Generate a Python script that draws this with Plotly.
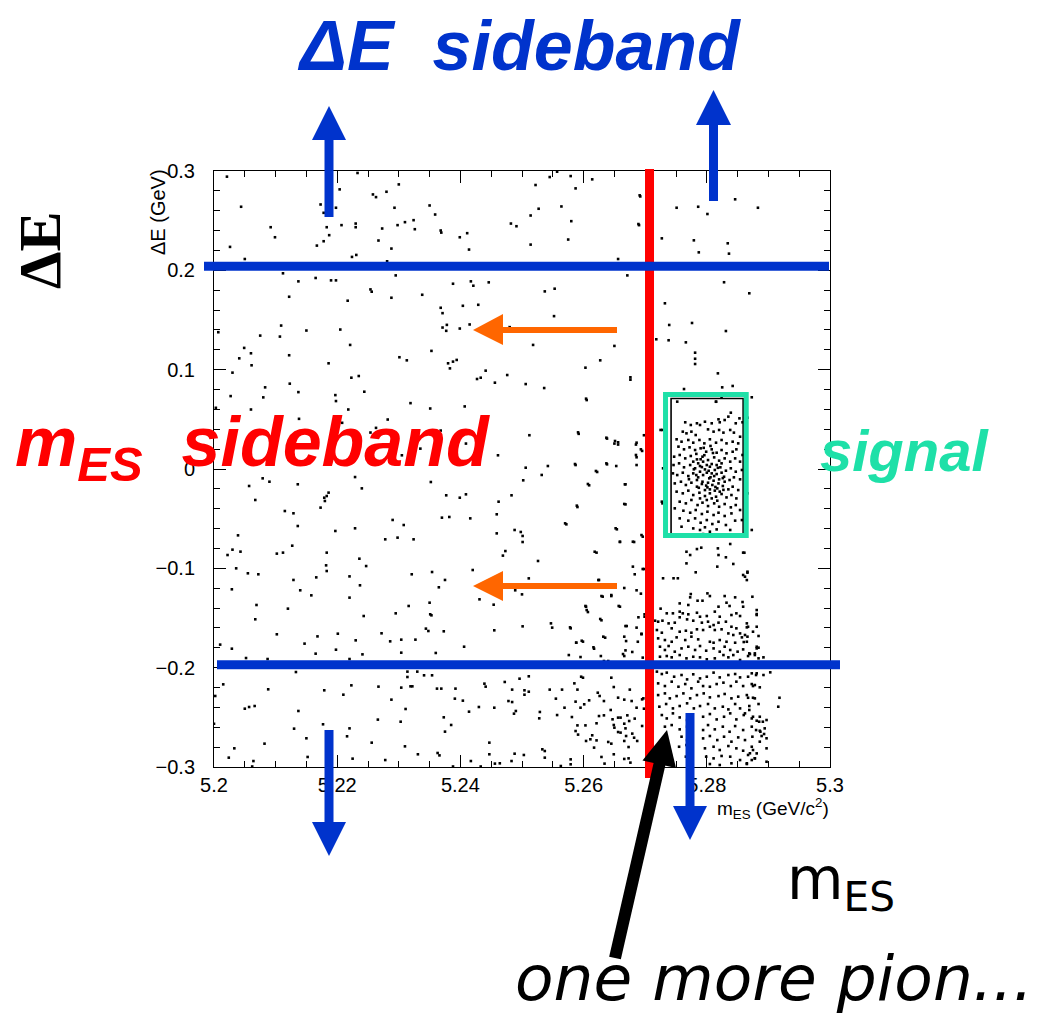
import plotly.graph_objects as go

# ---------------- data (m_ES [GeV/c^2], Delta E [GeV]) ----------------
sideband_upper = [
    (5.2021, 0.2943), (5.2044, 0.264), (5.2026, 0.2236), (5.2050, 0.2114), (5.2092, 0.2434), (5.2099, 0.2333),
    (5.2173, 0.2663), (5.2178, 0.2579), (5.2183, 0.2434), (5.2187, 0.2354), (5.2167, 0.2249), (5.2178, 0.2293),
    (5.2204, 0.2815), (5.2198, 0.263), (5.2207, 0.2455), (5.2230, 0.2471), (5.2230, 0.2434), (5.2233, 0.298),
    (5.2258, 0.2764), (5.2263, 0.2737), (5.2280, 0.2791), (5.2300, 0.2865), (5.2293, 0.263), (5.2273, 0.2421),
    (5.2267, 0.230), (5.2288, 0.2219), (5.2298, 0.2455), (5.2310, 0.2485), (5.2324, 0.2505), (5.2326, 0.2414),
    (5.2350, 0.2653), (5.2359, 0.2562), (5.2368, 0.2401), (5.2369, 0.2380), (5.2399, 0.2333), (5.2411, 0.2374),
    (5.2414, 0.2209), (5.2482, 0.2471), (5.2491, 0.2444), (5.2514, 0.2552), (5.2527, 0.262), (5.2522, 0.2859),
    (5.2545, 0.2939), (5.2557, 0.2993), (5.2579, 0.2949), (5.2587, 0.2825), (5.2564, 0.2643), (5.2580, 0.2495),
    (5.2575, 0.231), (5.2514, 0.2259), (5.2614, 0.2916), (5.2656, 0.2114), (5.2671, 0.1949), (5.2690, 0.2455),
    (5.2692, 0.2744), (5.2224, 0.2135), (5.2231, 0.2155), (5.2281, 0.2091),
    (5.2112, 0.197), (5.2137, 0.1889), (5.2165, 0.1923), (5.2190, 0.1899), (5.2198, 0.1899), (5.2122, 0.1734),
    (5.2254, 0.1808), (5.2256, 0.1785), (5.2295, 0.1949), (5.2288, 0.1724), (5.2217, 0.1694), (5.2338, 0.1754),
    (5.2368, 0.1623), (5.2371, 0.1569), (5.2388, 0.1865), (5.2404, 0.1643), (5.2417, 0.1889), (5.2421, 0.1845),
    (5.2429, 0.1653), (5.2446, 0.1879), (5.2371, 0.1424), (5.2378, 0.1451), (5.2377, 0.1391), (5.2399, 0.1414),
    (5.2415, 0.1455), (5.2480, 0.1428), (5.2537, 0.1788), (5.2553, 0.1815), (5.2552, 0.1539), (5.2007, 0.1377),
    (5.2075, 0.1343), (5.2109, 0.1444), (5.2107, 0.1333), (5.2150, 0.1394), (5.2205, 0.1404), (5.2221, 0.1249),
    (5.2049, 0.1219), (5.2041, 0.1114), (5.2060, 0.1165), (5.2061, 0.1044), (5.2122, 0.1145), (5.2030, 0.097),
    (5.2186, 0.1064), (5.2301, 0.1125), (5.2313, 0.1094), (5.2353, 0.1189), (5.2380, 0.1064), (5.2388, 0.1081),
    (5.2394, 0.1098), (5.2383, 0.1013), (5.2518, 0.1249), (5.2650, 0.1239), (5.2627, 0.1094), (5.2603, 0.102),
    (5.2676, 0.0899), (5.2427, 0.0906), (5.2433, 0.0919), (5.2441, 0.099), (5.2456, 0.0869), (5.2476, 0.0946),
    (5.2506, 0.0855), (5.2536, 0.0815), (5.2605, 0.0694), (5.2027, 0.0734), (5.2060, 0.0599), (5.2083, 0.0822),
    (5.2080, 0.0721), (5.2123, 0.0859), (5.2137, 0.0774), (5.2223, 0.0919), (5.2235, 0.0936), (5.2244, 0.0778),
    (5.2197, 0.0744), (5.2198, 0.0684), (5.2218, 0.0599), (5.2319, 0.0663), (5.2351, 0.0609), (5.2407, 0.063),
    (5.2003, 0.0616), (5.2138, 0.0505), (5.2202, 0.0488), (5.2208, 0.0465), (5.2282, 0.0498), (5.2027, 0.034),
    (5.2095, 0.0263), (5.2122, 0.0094), (5.2263, 0.0414), (5.2368, 0.0387), (5.2409, 0.0256), (5.2461, 0.0138),
    (5.2512, 0.034), (5.2592, 0.0354), (5.2638, 0.0306), (5.2650, 0.0256), (5.2656, 0.0246), (5.2685, 0.0246),
    (5.2686, 0.0118), (5.2698, 0.034), (5.2695, 0.0182), (5.2254, 0.0367), (5.2335, 0.0205), (5.2305, 0.0138),
]

sideband_lower = [
    (5.2506, 0.0013), (5.2542, 0.003), (5.2587, 0.004), (5.2638, 0.0047), (5.2653, 0.003), (5.2686, 0.004),
    (5.2502, -0.0114), (5.2532, -0.006), (5.2622, -0.003), (5.2668, -0.0154), (5.2609, -0.0164), (5.2590, -0.0383),
    (5.2668, -0.0356), (5.2572, -0.0557), (5.2654, -0.0607), (5.2659, -0.0735), (5.2682, -0.0735), (5.2696, -0.0681),
    (5.2621, -0.0842), (5.2683, -0.106), (5.2698, -0.1007), (5.2625, -0.1117), (5.2666, -0.1198), (5.2686, -0.1221),
    (5.2693, -0.1255), (5.2631, -0.1285), (5.2645, -0.1279), (5.2659, -0.1386), (5.2604, -0.1386), (5.2607, -0.144),
    (5.2629, -0.1523), (5.2668, -0.1581), (5.2686, -0.1597), (5.2694, -0.1658), (5.2547, -0.1554), (5.2549, -0.1597),
    (5.2579, -0.1604), (5.2588, -0.1748), (5.2599, -0.1738), (5.2635, -0.1698), (5.2617, -0.1809), (5.2669, -0.1732),
    (5.2668, -0.1826), (5.2679, -0.1842), (5.2595, -0.1893), (5.2628, -0.1883), (5.2633, -0.1933), (5.2640, -0.1933),
    (5.2666, -0.1883), (5.2696, -0.1899), (5.2699, -0.1463), (5.2699, -0.1487),
    (5.2057, -0.0171), (5.2079, -0.0094), (5.2090, -0.0128), (5.2136, -0.0154), (5.2067, -0.0312), (5.2115, -0.0423),
    (5.2129, -0.0446), (5.2136, -0.0574), (5.2173, -0.0389), (5.2179, -0.0289), (5.2183, -0.0272), (5.2186, -0.0238),
    (5.2180, -0.0322), (5.2229, -0.0081), (5.2240, -0.0195), (5.2197, -0.0624), (5.2229, -0.0597), (5.2290, -0.0513),
    (5.2308, -0.0564), (5.2278, -0.0708), (5.2298, -0.0691), (5.2324, -0.0708), (5.2236, -0.0903), (5.2247, -0.0977),
    (5.2039, -0.0668), (5.2030, -0.0812), (5.2043, -0.0832), (5.2022, -0.0866), (5.2036, -0.100), (5.2055, -0.105),
    (5.2072, -0.106), (5.2102, -0.0852), (5.2112, -0.0842), (5.2127, -0.0772), (5.2029, -0.1211), (5.2069, -0.1369),
    (5.2067, -0.1513), (5.2120, -0.1406), (5.2129, -0.1117), (5.2140, -0.1221), (5.2158, -0.1272), (5.2166, -0.1091),
    (5.2182, -0.097), (5.2183, -0.1027), (5.2183, -0.0842), (5.2220, -0.1081), (5.2220, -0.1295), (5.2237, -0.1171),
    (5.2243, -0.148), (5.2295, -0.1453), (5.2316, -0.1379), (5.2321, -0.106), (5.2352, -0.0131), (5.2377, -0.0265),
    (5.2399, -0.0289), (5.2409, -0.0255), (5.2354, -0.1037), (5.2375, -0.1117), (5.2365, -0.1191), (5.2350, -0.1346),
    (5.2351, -0.1463), (5.2353, -0.1473), (5.2344, -0.1607), (5.2348, -0.1631), (5.2373, -0.1634), (5.2370, -0.049),
    (5.2382, -0.0483), (5.2416, -0.0497), (5.2420, -0.1017), (5.2462, -0.0329), (5.2483, -0.0265), (5.2459, -0.0456),
    (5.2459, -0.0648), (5.2473, -0.0826), (5.2469, -0.0872), (5.2488, -0.0614), (5.2498, -0.0634), (5.2501, -0.0674),
    (5.2501, -0.0735), (5.2526, -0.0926), (5.2511, -0.1101), (5.2489, -0.1221), (5.2500, -0.1262), (5.2431, -0.1312),
    (5.2454, -0.1366), (5.2455, -0.1624), (5.2501, -0.1584), (5.2102, -0.1664), (5.2147, -0.1758), (5.2168, -0.1685),
    (5.2165, -0.1859), (5.2201, -0.1658), (5.2198, -0.1819), (5.2230, -0.1725), (5.2241, -0.1866), (5.2220, -0.1913),
    (5.2272, -0.1654), (5.2286, -0.1735), (5.2304, -0.1718), (5.2327, -0.1718), (5.2304, -0.1849), (5.2360, -0.1852),
    (5.2406, -0.1789), (5.2010, -0.1768), (5.2029, -0.1809), (5.2052, -0.1903), (5.2087, -0.1913),
    (5.2015, -0.2168), (5.2088, -0.2218), (5.2133, -0.2044), (5.2179, -0.2228), (5.2210, -0.2272), (5.2223, -0.2178),
    (5.2267, -0.2191), (5.2288, -0.2322), (5.2304, -0.2201), (5.2314, -0.204), (5.2319, -0.2188), (5.2322, -0.2188),
    (5.2314, -0.2094), (5.2330, -0.204), (5.2341, -0.2077), (5.2354, -0.2077), (5.2311, -0.2416), (5.2362, -0.2211),
    (5.2369, -0.2211), (5.2392, -0.2211), (5.2391, -0.2312), (5.2404, -0.2332), (5.2414, -0.2443), (5.2430, -0.2396),
    (5.2439, -0.2161), (5.2441, -0.2191), (5.2455, -0.2403), (5.2472, -0.2144), (5.2478, -0.2336), (5.2484, -0.2346),
    (5.2484, -0.2221), (5.2487, -0.2463), (5.2490, -0.2436), (5.2496, -0.2111), (5.2504, -0.2228), (5.2504, -0.2272),
    (5.2511, -0.2242), (5.2511, -0.2087), (5.2528, -0.251), (5.2545, -0.2221), (5.2555, -0.2312), (5.2557, -0.2477),
    (5.2565, -0.2221), (5.2569, -0.2403), (5.2581, -0.2497), (5.2590, -0.2581), (5.2603, -0.2581), (5.2621, -0.256),
    (5.2585, -0.2158), (5.2590, -0.2221), (5.2587, -0.2342), (5.2595, -0.2403), (5.2601, -0.2369), (5.2596, -0.2091),
    (5.2599, -0.2101), (5.2609, -0.2329), (5.2623, -0.2252), (5.2626, -0.2285), (5.2633, -0.2336), (5.2645, -0.2101),
    (5.2649, -0.2195), (5.2656, -0.2302), (5.2666, -0.2322), (5.2675, -0.2221), (5.2678, -0.2336), (5.2695, -0.2319),
    (5.2698, -0.2413), (5.2625, -0.2487), (5.2633, -0.248), (5.2644, -0.2426), (5.2647, -0.252), (5.2649, -0.2577),
    (5.2656, -0.2503), (5.2660, -0.2503), (5.2666, -0.2564), (5.2671, -0.248), (5.2674, -0.2537), (5.2686, -0.2403),
    (5.2683, -0.2513), (5.2668, -0.2611), (5.2650, -0.2604), (5.2656, -0.2648), (5.2660, -0.2654), (5.2679, -0.2664),
    (5.2682, -0.2705), (5.2669, -0.2688), (5.2640, -0.2748), (5.2645, -0.2765), (5.2666, -0.2738), (5.2673, -0.2799),
    (5.2687, -0.2738), (5.2614, -0.2681), (5.2611, -0.2721), (5.2617, -0.2805), (5.2629, -0.2899), (5.2649, -0.2872),
    (5.2634, -0.2966), (5.2666, -0.2919), (5.2676, -0.2956), (5.2673, -0.2913), (5.2695, -0.2587), (5.2697, -0.2309),
    (5.2002, -0.2285), (5.2000, -0.2564), (5.2050, -0.2413), (5.2057, -0.2396), (5.2066, -0.2386), (5.2130, -0.2614),
    (5.2137, -0.2436), (5.2150, -0.2711), (5.2177, -0.257), (5.2220, -0.2611), (5.2216, -0.2691), (5.2266, -0.2523),
    (5.2303, -0.2544), (5.2310, -0.2792), (5.2256, -0.2755), (5.2373, -0.25), (5.2375, -0.2644), (5.2385, -0.2577),
    (5.2447, -0.2755), (5.2447, -0.2872), (5.2456, -0.2966), (5.2417, -0.294), (5.2433, -0.2995), (5.2388, -0.2995),
    (5.2363, -0.2859), (5.2366, -0.2883), (5.2331, -0.2872), (5.2278, -0.293), (5.2225, -0.2916), (5.2152, -0.2899),
    (5.2064, -0.294), (5.2062, -0.2995), (5.2024, -0.2906), (5.2033, -0.2812), (5.2082, -0.2765), (5.2533, -0.2822),
    (5.2537, -0.2839), (5.2537, -0.2906), (5.2579, -0.2923), (5.2579, -0.2973), (5.2563, -0.299), (5.2529, -0.2446),
    (5.2488, -0.2866), (5.2503, -0.2879), (5.2483, -0.294), (5.2464, -0.2963), (5.2587, -0.2638), (5.2591, -0.2674),
    (5.2621, -0.2732), (5.2604, -0.2738),
]

right_region = [
    (5.2691, 0.2755), (5.2689, 0.2466), (5.2751, 0.263), (5.2786, 0.264), (5.2801, 0.2567), (5.2846, 0.2715),
    (5.2883, 0.263), (5.2727, 0.2322), (5.2779, 0.2302), (5.2834, 0.2272), (5.2787, 0.2181), (5.2836, 0.2168),
    (5.2828, 0.188), (5.2869, 0.1769), (5.2732, 0.1668), (5.2739, 0.145), (5.2776, 0.147), (5.2831, 0.1389),
    (5.2718, 0.1306), (5.2738, 0.1296), (5.2766, 0.1275), (5.2781, 0.1171), (5.2781, 0.111), (5.2781, 0.1057),
    (5.2818, 0.0963), (5.2676, 0.0923),
    (5.2604, 0.0708), (5.2591, 0.0369), (5.2637, 0.0315), (5.2651, 0.0282), (5.2656, 0.0269), (5.2686, 0.0265),
    (5.2693, 0.0198), (5.2725, 0.0393), (5.2586, 0.005), (5.2620, -0.002), (5.2637, 0.0057), (5.2685, 0.0141),
    (5.2607, -0.0151), (5.2667, -0.0154), (5.2589, -0.0369), (5.2666, -0.0352), (5.2727, -0.0329), (5.2570, -0.0547),
    (5.2652, -0.0597), (5.2659, -0.0732), (5.2680, -0.0732), (5.2694, -0.0665), (5.2618, -0.0833), (5.2767, -0.0833),
    (5.2773, -0.0866), (5.2767, -0.095), (5.2784, -0.0806), (5.2791, -0.0792), (5.2818, -0.0799), (5.2838, -0.0755),
    (5.2819, -0.0866), (5.2817, -0.0983), (5.2831, -0.0889), (5.2843, -0.0956), (5.2859, -0.0842), (5.2680, -0.0983),
    (5.2696, -0.1007), (5.2729, -0.11), (5.2746, -0.11), (5.2753, -0.11), (5.2782, -0.104), (5.2859, -0.1067),
    (5.2866, -0.1044), (5.2624, -0.1118), (5.2629, -0.1279), (5.2645, -0.1269), (5.2578, -0.1594), (5.2603, -0.1379),
    (5.2605, -0.1420), (5.2657, -0.1379), (5.2627, -0.151), (5.2670, -0.1581), (5.2689, -0.1493), (5.2588, -0.1749),
    (5.2597, -0.1729), (5.2616, -0.1795), (5.2632, -0.1688), (5.2664, -0.1863), (5.2666, -0.1688), (5.2688, -0.1739),
    (5.2694, -0.1664), (5.2576, -0.1873), (5.2763, 0.0805), (5.2825, 0.0822), (5.2842, 0.0836), (5.2815, 0.0677),
    (5.2873, 0.0722), (5.2866, 0.0516), (5.2866, -0.0245), (5.2873, -0.0614), (5.2861, -0.0843), (5.2866, -0.1034),
    (5.2862, -0.1084), (5.2865, -0.1118), (5.2874, -0.1286), (5.2881, -0.142), (5.2881, -0.147), (5.2867, -0.1588),
    (5.2865, -0.1594), (5.2866, -0.1688), (5.2860, -0.1742), (5.2881, -0.1789), (5.2884, -0.1799), (5.2878, -0.1856),
    (5.2870, -0.1863), (5.2884, -0.1906), (5.2903, -0.2047), (5.2873, -0.2057), (5.2880, -0.2074), (5.2875, -0.2185),
    (5.2878, -0.2175), (5.2867, -0.2303), (5.2875, -0.2303), (5.2918, -0.2303), (5.2869, -0.2426), (5.2862, -0.246),
    (5.2875, -0.2494), (5.2881, -0.2534), (5.2885, -0.2544), (5.2891, -0.2544), (5.2880, -0.2628), (5.2887, -0.2645),
    (5.2893, -0.2668), (5.2889, -0.2688), (5.2897, -0.2711), (5.2897, -0.2812), (5.2875, -0.2829), (5.2870, -0.2862),
    (5.2878, -0.2913), (5.2873, -0.293), (5.2865, -0.2963),
]

signal_cluster = [
    (5.2752, 0.0678), (5.2815, 0.0678), (5.2824, 0.0728), (5.2839, 0.0567), (5.2853, 0.051), (5.2858, 0.047),
    (5.2847, 0.046), (5.2765, 0.047), (5.2774, 0.0443), (5.2784, 0.046), (5.2789, 0.0443), (5.2797, 0.0476),
    (5.2808, 0.046), (5.2819, 0.05), (5.2821, 0.047), (5.2829, 0.0493), (5.2835, 0.0527), (5.2761, 0.0376),
    (5.2767, 0.0359), (5.2775, 0.0376), (5.2782, 0.0342), (5.2802, 0.0399), (5.2811, 0.0376), (5.2820, 0.0393),
    (5.2827, 0.0366), (5.2838, 0.0393), (5.2844, 0.0366), (5.2854, 0.0325), (5.2751, 0.0299), (5.2759, 0.0275),
    (5.2770, 0.0292), (5.2778, 0.0265), (5.2788, 0.0292), (5.2796, 0.0258), (5.2805, 0.0299), (5.2815, 0.0265),
    (5.2824, 0.0292), (5.2832, 0.0258), (5.2842, 0.0275), (5.2851, 0.0258), (5.2754, 0.0225), (5.2763, 0.0198),
    (5.2772, 0.0218), (5.2781, 0.0191), (5.2790, 0.0208), (5.2799, 0.0174), (5.2808, 0.0198), (5.2816, 0.0164),
    (5.2824, 0.0191), (5.2832, 0.0158), (5.2842, 0.0174), (5.2848, 0.0198), (5.2858, 0.0141), (5.2747, 0.0124),
    (5.2756, 0.0141), (5.2765, 0.0107), (5.2774, 0.0131), (5.2784, 0.0097), (5.2793, 0.0124), (5.2802, 0.009),
    (5.2812, 0.0117), (5.2820, 0.0084), (5.2829, 0.0107), (5.2838, 0.0074), (5.2846, 0.0107), (5.2854, 0.0074),
    (5.2746, 0.004), (5.2755, 0.0057), (5.2763, 0.0017), (5.2773, 0.004), (5.2781, 0.0007), (5.2789, 0.003),
    (5.2797, -0.0004), (5.2805, 0.0023), (5.2813, -0.001), (5.2822, 0.0017), (5.2831, -0.0017), (5.2839, 0.0007),
    (5.2847, -0.0027), (5.2857, -0.001), (5.2745, -0.0044), (5.2752, -0.0061), (5.2761, -0.0037), (5.2770, -0.0071),
    (5.2778, -0.0044), (5.2786, -0.0084), (5.2794, -0.0061), (5.2804, -0.0094), (5.2812, -0.0071), (5.2820, -0.0104),
    (5.2828, -0.0078), (5.2837, -0.0111), (5.2844, -0.0084), (5.2854, -0.0104), (5.2862, -0.0071), (5.2748, -0.0145),
    (5.2758, -0.0128), (5.2766, -0.0161), (5.2775, -0.0138), (5.2784, -0.0178), (5.2792, -0.0151), (5.2801, -0.0185),
    (5.2809, -0.0161), (5.2817, -0.0195), (5.2826, -0.0171), (5.2835, -0.0205), (5.2842, -0.0178), (5.2851, -0.0212),
    (5.2751, -0.0228), (5.2761, -0.0245), (5.2770, -0.0218), (5.2778, -0.0262), (5.2788, -0.0239), (5.2797, -0.0272),
    (5.2805, -0.0245), (5.2815, -0.0279), (5.2824, -0.0252), (5.2832, -0.0286), (5.2840, -0.0262), (5.2848, -0.0296),
    (5.2756, -0.0329), (5.2766, -0.0346), (5.2775, -0.0312), (5.2785, -0.0363), (5.2793, -0.0339), (5.2802, -0.0373),
    (5.2812, -0.0346), (5.2820, -0.038), (5.2829, -0.0353), (5.2839, -0.0386), (5.2847, -0.0363), (5.2748, -0.0396),
    (5.2762, -0.042), (5.2773, -0.044), (5.2782, -0.0413), (5.2792, -0.0453), (5.2801, -0.043), (5.2811, -0.0463),
    (5.2819, -0.044), (5.2829, -0.0473), (5.2840, -0.0447), (5.2854, -0.0413), (5.2756, -0.0497), (5.2770, -0.052),
    (5.2781, -0.0497), (5.2790, -0.0541), (5.2800, -0.0514), (5.2809, -0.0554), (5.2819, -0.0531), (5.2831, -0.0564),
    (5.2846, -0.052), (5.2857, -0.0514), (5.2759, -0.0581), (5.2778, -0.0598), (5.2789, -0.0614), (5.2797, -0.0587),
    (5.2805, -0.0631), (5.2816, -0.0608), (5.2838, -0.0614), (5.2781, -0.0665), (5.2794, -0.0655), (5.2808, -0.0675),
    (5.2728, 0.0393), (5.2729, 0.0007), (5.2728, -0.0346),
    (5.2778, 0.0074), (5.2786, 0.0057), (5.2794, 0.0074), (5.2800, 0.004), (5.2808, 0.005), (5.2816, 0.004),
    (5.2824, 0.0057), (5.2789, -0.0027), (5.2800, -0.0037), (5.2808, -0.0044), (5.2816, -0.0051), (5.2824, -0.0037),
    (5.2784, -0.0111), (5.2793, -0.0128), (5.2802, -0.0138), (5.2811, -0.0118), (5.2819, -0.0145), (5.2829, -0.0128),
    (5.2797, -0.0212), (5.2805, -0.0205), (5.2813, -0.0218), (5.2821, -0.0228), (5.2789, -0.0296), (5.2800, -0.0312),
    (5.2808, -0.0296), (5.2817, -0.0319),
    (5.2783, 0.0152), (5.2796, 0.0139), (5.2810, 0.0161), (5.2779, -0.0003), (5.2792, 0.0019), (5.2803, -0.0018),
    (5.2818, 0.0012), (5.2787, -0.0189), (5.2799, -0.0167), (5.2814, -0.0181), (5.2827, -0.0210), (5.2795, 0.0213),
    (5.2806, 0.0232), (5.2783, -0.0061), (5.2806, -0.0083), (5.2826, -0.0092), (5.2771, -0.0103), (5.2790, 0.0098),
]

peak_cluster = [
    (5.2774, -0.1259), (5.2773, -0.1292), (5.2801, -0.1252), (5.2805, -0.1279), (5.2829, -0.1279), (5.2846, -0.1292),
    (5.2785, -0.1326), (5.2793, -0.1326), (5.2756, -0.1353), (5.2770, -0.1369), (5.2819, -0.1386), (5.2858, -0.1339),
    (5.2859, -0.1386), (5.2881, -0.146), (5.2832, -0.1346), (5.2837, -0.1379), (5.2725, -0.1406), (5.2735, -0.1453),
    (5.2745, -0.1453), (5.2756, -0.1436), (5.2761, -0.1453), (5.2770, -0.1463), (5.2784, -0.1447), (5.2789, -0.1487),
    (5.2800, -0.148), (5.2813, -0.1436), (5.2821, -0.1487), (5.2840, -0.147), (5.2848, -0.1453), (5.2854, -0.148),
    (5.2716, -0.1527), (5.2721, -0.1537), (5.2728, -0.1527), (5.2738, -0.1554), (5.2748, -0.1547), (5.2756, -0.1493),
    (5.2768, -0.1514), (5.2778, -0.1527), (5.2792, -0.1547), (5.2802, -0.1537), (5.2811, -0.1571), (5.2819, -0.1547),
    (5.2831, -0.1537), (5.2840, -0.1588), (5.2848, -0.1604), (5.2865, -0.1554), (5.2881, -0.1588), (5.2719, -0.1621),
    (5.2727, -0.1648), (5.2743, -0.1604), (5.2756, -0.1638), (5.2766, -0.1628), (5.2775, -0.1648), (5.2784, -0.1614),
    (5.2794, -0.1621), (5.2805, -0.1588), (5.2813, -0.1621), (5.2824, -0.1614), (5.2835, -0.1655), (5.2843, -0.1671),
    (5.2854, -0.1655), (5.2862, -0.1671), (5.2875, -0.1638), (5.2721, -0.1705), (5.2732, -0.1722), (5.2743, -0.1739),
    (5.2751, -0.1695), (5.2765, -0.1722), (5.2775, -0.1688), (5.2786, -0.1715), (5.2805, -0.1739), (5.2811, -0.1749),
    (5.2821, -0.1722), (5.2832, -0.1739), (5.2846, -0.1749), (5.2857, -0.1695), (5.2865, -0.1739), (5.2884, -0.1681),
    (5.2724, -0.1789), (5.2732, -0.1822), (5.2738, -0.1782), (5.2748, -0.1839), (5.2759, -0.1806), (5.2770, -0.1789),
    (5.2781, -0.1822), (5.2789, -0.1782), (5.2799, -0.1829), (5.2811, -0.1806), (5.2821, -0.1839), (5.2829, -0.1789),
    (5.2838, -0.1822), (5.2850, -0.1839), (5.2859, -0.1816), (5.2869, -0.1856), (5.2881, -0.1806), (5.2724, -0.189),
    (5.2735, -0.1883), (5.2743, -0.1896), (5.2756, -0.1873), (5.2767, -0.1906), (5.2778, -0.189), (5.2789, -0.1896),
    (5.2800, -0.1916), (5.2813, -0.1906), (5.2827, -0.1873), (5.2835, -0.1896), (5.2843, -0.1873), (5.2854, -0.1923),
    (5.2867, -0.1883), (5.2878, -0.1873), (5.2892, -0.1896),
    (5.2719, -0.204), (5.2727, -0.2064), (5.2735, -0.205), (5.2747, -0.2091), (5.2759, -0.2074), (5.2768, -0.2118),
    (5.2778, -0.2067), (5.2789, -0.2108), (5.2800, -0.2091), (5.2811, -0.205), (5.2821, -0.2098), (5.2835, -0.2074),
    (5.2846, -0.2064), (5.2854, -0.2098), (5.2867, -0.2091), (5.2881, -0.2057), (5.2892, -0.2074), (5.2721, -0.2158),
    (5.2732, -0.2185), (5.2743, -0.2141), (5.2754, -0.2192), (5.2765, -0.2165), (5.2775, -0.2208), (5.2786, -0.2141),
    (5.2794, -0.2185), (5.2805, -0.2192), (5.2816, -0.2165), (5.2827, -0.2151), (5.2839, -0.2185), (5.2848, -0.2141),
    (5.2859, -0.2185), (5.2873, -0.2165), (5.2886, -0.2198), (5.2721, -0.2276), (5.2732, -0.2259), (5.2740, -0.2309),
    (5.2751, -0.2286), (5.2762, -0.2259), (5.2773, -0.2309), (5.2784, -0.2276), (5.2795, -0.2259), (5.2805, -0.2299),
    (5.2819, -0.2286), (5.2829, -0.2265), (5.2840, -0.2309), (5.2851, -0.2292), (5.2865, -0.2276), (5.2878, -0.2309),
    (5.2723, -0.2393), (5.2734, -0.2366), (5.2745, -0.241), (5.2756, -0.2386), (5.2768, -0.2359), (5.2779, -0.241),
    (5.2789, -0.2386), (5.2802, -0.2366), (5.2813, -0.241), (5.2826, -0.2393), (5.2835, -0.242), (5.2846, -0.2366),
    (5.2854, -0.241), (5.2869, -0.2386), (5.2884, -0.2366), (5.2916, -0.2393), (5.2727, -0.2477), (5.2735, -0.2511),
    (5.2745, -0.246), (5.2756, -0.2501), (5.2768, -0.2527), (5.2794, -0.2494), (5.2805, -0.2467), (5.2816, -0.2521),
    (5.2828, -0.2494), (5.2838, -0.246), (5.2848, -0.2521), (5.2860, -0.2477), (5.2873, -0.2511), (5.2886, -0.2494),
    (5.2897, -0.2527), (5.2732, -0.2594), (5.2743, -0.2578), (5.2756, -0.2621), (5.2768, -0.2594), (5.2794, -0.2628),
    (5.2802, -0.2578), (5.2813, -0.2621), (5.2826, -0.2594), (5.2837, -0.2645), (5.2846, -0.2588), (5.2859, -0.2628),
    (5.2873, -0.2594), (5.2886, -0.2635), (5.2894, -0.2611), (5.2759, -0.2695), (5.2768, -0.2729), (5.2794, -0.2712),
    (5.2805, -0.2688), (5.2817, -0.2729), (5.2828, -0.2695), (5.2840, -0.2745), (5.2851, -0.2702), (5.2862, -0.2729),
    (5.2874, -0.2695), (5.2886, -0.2745), (5.2755, -0.2796), (5.2767, -0.2779), (5.2797, -0.2812), (5.2811, -0.2796),
    (5.2821, -0.2829), (5.2835, -0.2789), (5.2848, -0.2812), (5.2859, -0.2836), (5.2873, -0.2796), (5.2881, -0.2863),
    (5.2766, -0.2896), (5.2799, -0.2896), (5.2811, -0.2913), (5.2824, -0.2889), (5.2838, -0.2896), (5.2854, -0.293),
    (5.2867, -0.2879), (5.2878, -0.2913), (5.2805, -0.297), (5.2821, -0.298), (5.2840, -0.2963), (5.2865, -0.297),
    (5.2897, -0.2947),
]

x_ticks = [5.2, 5.22, 5.24, 5.26, 5.28, 5.3]
x_ticktext = ["5.2", "5.22", "5.24", "5.26", "5.28", "5.3"]
y_ticks = [-0.3, -0.2, -0.1, 0.0, 0.1, 0.2, 0.3]
y_ticktext = ["\u22120.3", "\u22120.2", "\u22120.1", "0", "0.1", "0.2", "0.3"]

# cut values / regions (data units)
mes_cut = 5.2707
de_upper_cut = 0.204
de_lower_cut = -0.197
signal_box_teal = (5.2733, 5.2864, -0.067, 0.075)
signal_box_black = (5.2742, 5.2859, -0.0665, 0.0710)

# ---------------- figure ----------------
groups = [sideband_upper, sideband_lower, right_region, signal_cluster, peak_cluster]
mes = [p[0] for g in groups for p in g]
de = [p[1] for g in groups for p in g]

W, H = 1047, 1023
OFF = 8                            # page body margin of the html page
L, R, T, B = 214, 830, 171, 767   # plot area in page pixels


def fx(x):
    return (x - L) / (R - L)


def fy(y):
    return (B - y) / (B - T)


BLUE = "#0033cc"
RED = "#ff0000"
ORANGE = "#ff6600"
TEAL = "#1ee0a8"

fig = go.Figure(go.Scatter(
    x=mes, y=de, mode="markers",
    marker=dict(symbol="square", size=2.6, color="black", line=dict(width=0)),
    hoverinfo="skip", showlegend=False,
))

shapes = []
shapes.append(dict(type="line", xref="x", yref="paper", x0=mes_cut, x1=mes_cut, y0=fy(169), y1=fy(778),
                   line=dict(color=RED, width=9)))
shapes.append(dict(type="line", xref="paper", yref="y", x0=fx(204), x1=fx(829), y0=de_upper_cut, y1=de_upper_cut,
                   line=dict(color=BLUE, width=9)))
shapes.append(dict(type="line", xref="paper", yref="y", x0=fx(217), x1=fx(840), y0=de_lower_cut, y1=de_lower_cut,
                   line=dict(color=BLUE, width=9)))
x0, x1, y0, y1 = signal_box_black
shapes.append(dict(type="rect", xref="x", yref="y", x0=x0, x1=x1, y0=y0, y1=y1, line=dict(color="black", width=1.6)))
x0, x1, y0, y1 = signal_box_teal
shapes.append(dict(type="rect", xref="x", yref="y", x0=x0, x1=x1, y0=y0, y1=y1, line=dict(color=TEAL, width=5)))


def tri(p1, p2, p3, color):
    path = "M {:.5f},{:.5f} L {:.5f},{:.5f} L {:.5f},{:.5f} Z".format(
        fx(p1[0]), fy(p1[1]), fx(p2[0]), fy(p2[1]), fx(p3[0]), fy(p3[1]))
    return dict(type="path", xref="paper", yref="paper", path=path, fillcolor=color, line=dict(width=0))


def seg(a, b, color, w):
    return dict(type="line", xref="paper", yref="paper", x0=fx(a[0]), y0=fy(a[1]), x1=fx(b[0]), y1=fy(b[1]),
                line=dict(color=color, width=w))


shapes += [seg((329, 217), (329, 138), BLUE, 9), tri((312, 140), (346, 140), (329, 106), BLUE)]
shapes += [seg((713.5, 201), (713.5, 123), BLUE, 9), tri((696, 125), (731, 125), (713.5, 90), BLUE)]
shapes += [seg((329, 730), (329, 824), BLUE, 9), tri((312, 822), (346, 822), (329, 856), BLUE)]
shapes += [seg((690, 713), (690, 808), BLUE, 9), tri((673, 806), (707, 806), (690, 840), BLUE)]
shapes += [seg((617, 330), (501, 330), ORANGE, 6), tri((503, 314), (503, 345), (473, 330), ORANGE)]
shapes += [seg((617, 586), (501, 586), ORANGE, 6), tri((503, 571), (503, 601), (473, 586), ORANGE)]
shapes += [seg((615, 958), (660, 762), "black", 12), tri((667, 730), (642.5, 760.5), (676, 768), "black")]

for s in shapes:
    s["layer"] = "above"

ann = []
ann.append(dict(text="\u0394E\u00a0\u00a0sideband", x=fx(519), y=fy(46), xanchor="center", yanchor="middle",
                font=dict(family="Liberation Sans, Arial", size=70, color=BLUE, weight="bold", style="italic")))
ann.append(dict(text="m<sub>ES</sub>\u00a0\u00a0sideband", x=fx(13), y=fy(447), xanchor="left", yanchor="middle",
                font=dict(family="Liberation Sans, Arial", size=70, color=RED, weight="bold", style="italic")))
ann.append(dict(text="signal", x=fx(818), y=fy(450), xanchor="left", yanchor="middle",
                font=dict(family="Liberation Sans, Arial", size=58, color=TEAL, weight="bold", style="italic")))
ann.append(dict(text="\u0394E", x=fx(40), y=fy(250), xanchor="center", yanchor="middle", textangle=-90,
                font=dict(family="Liberation Serif, Times New Roman", size=60, color="black", weight="bold")))
ann.append(dict(text="m<sub>ES</sub>", x=fx(785), y=fy(883), xanchor="left", yanchor="middle",
                font=dict(family="DejaVu Sans", size=58, color="black")))
ann.append(dict(text="one more pion...", x=fx(513), y=fy(978), xanchor="left", yanchor="middle",
                font=dict(family="DejaVu Sans", size=63, color="black", style="italic")))
ann.append(dict(text="\u0394E (GeV)", x=fx(158), y=fy(212), xanchor="center", yanchor="middle", textangle=-90,
                font=dict(family="Liberation Sans, Arial", size=20, color="black")))
ann.append(dict(text="m<sub>ES</sub> (GeV/c<sup>2</sup>)", x=fx(831), y=fy(808), xanchor="right", yanchor="middle",
                font=dict(family="Liberation Sans, Arial", size=19, color="black")))
for a in ann:
    a.update(xref="paper", yref="paper", showarrow=False)

axis_common = dict(
    showgrid=False, zeroline=False, showline=True, linecolor="black", linewidth=1, mirror="allticks",
    ticks="inside", ticklen=12, tickwidth=1, tickcolor="black",
    tickfont=dict(family="Liberation Sans, Arial", size=20, color="black"),
)

fig.update_layout(
    width=W, height=H, autosize=False,
    margin=dict(l=L - OFF, r=W - (R - OFF), t=T - OFF, b=H - (B - OFF), pad=0),
    paper_bgcolor="white", plot_bgcolor="white",
    xaxis=dict(range=[5.2, 5.3], tickvals=x_ticks, ticktext=x_ticktext,
               minor=dict(tick0=5.2, dtick=0.005, ticks="inside", ticklen=6, tickcolor="black", showgrid=False),
               ticklabelstandoff=0, **axis_common),
    yaxis=dict(range=[-0.3, 0.3], tickvals=y_ticks, ticktext=y_ticktext,
               minor=dict(tick0=-0.3, dtick=0.02, ticks="inside", ticklen=6, tickcolor="black", showgrid=False),
               ticklabelstandoff=14, **axis_common),
    shapes=shapes, annotations=ann, showlegend=False,
)

fig.write_html("out.html")
